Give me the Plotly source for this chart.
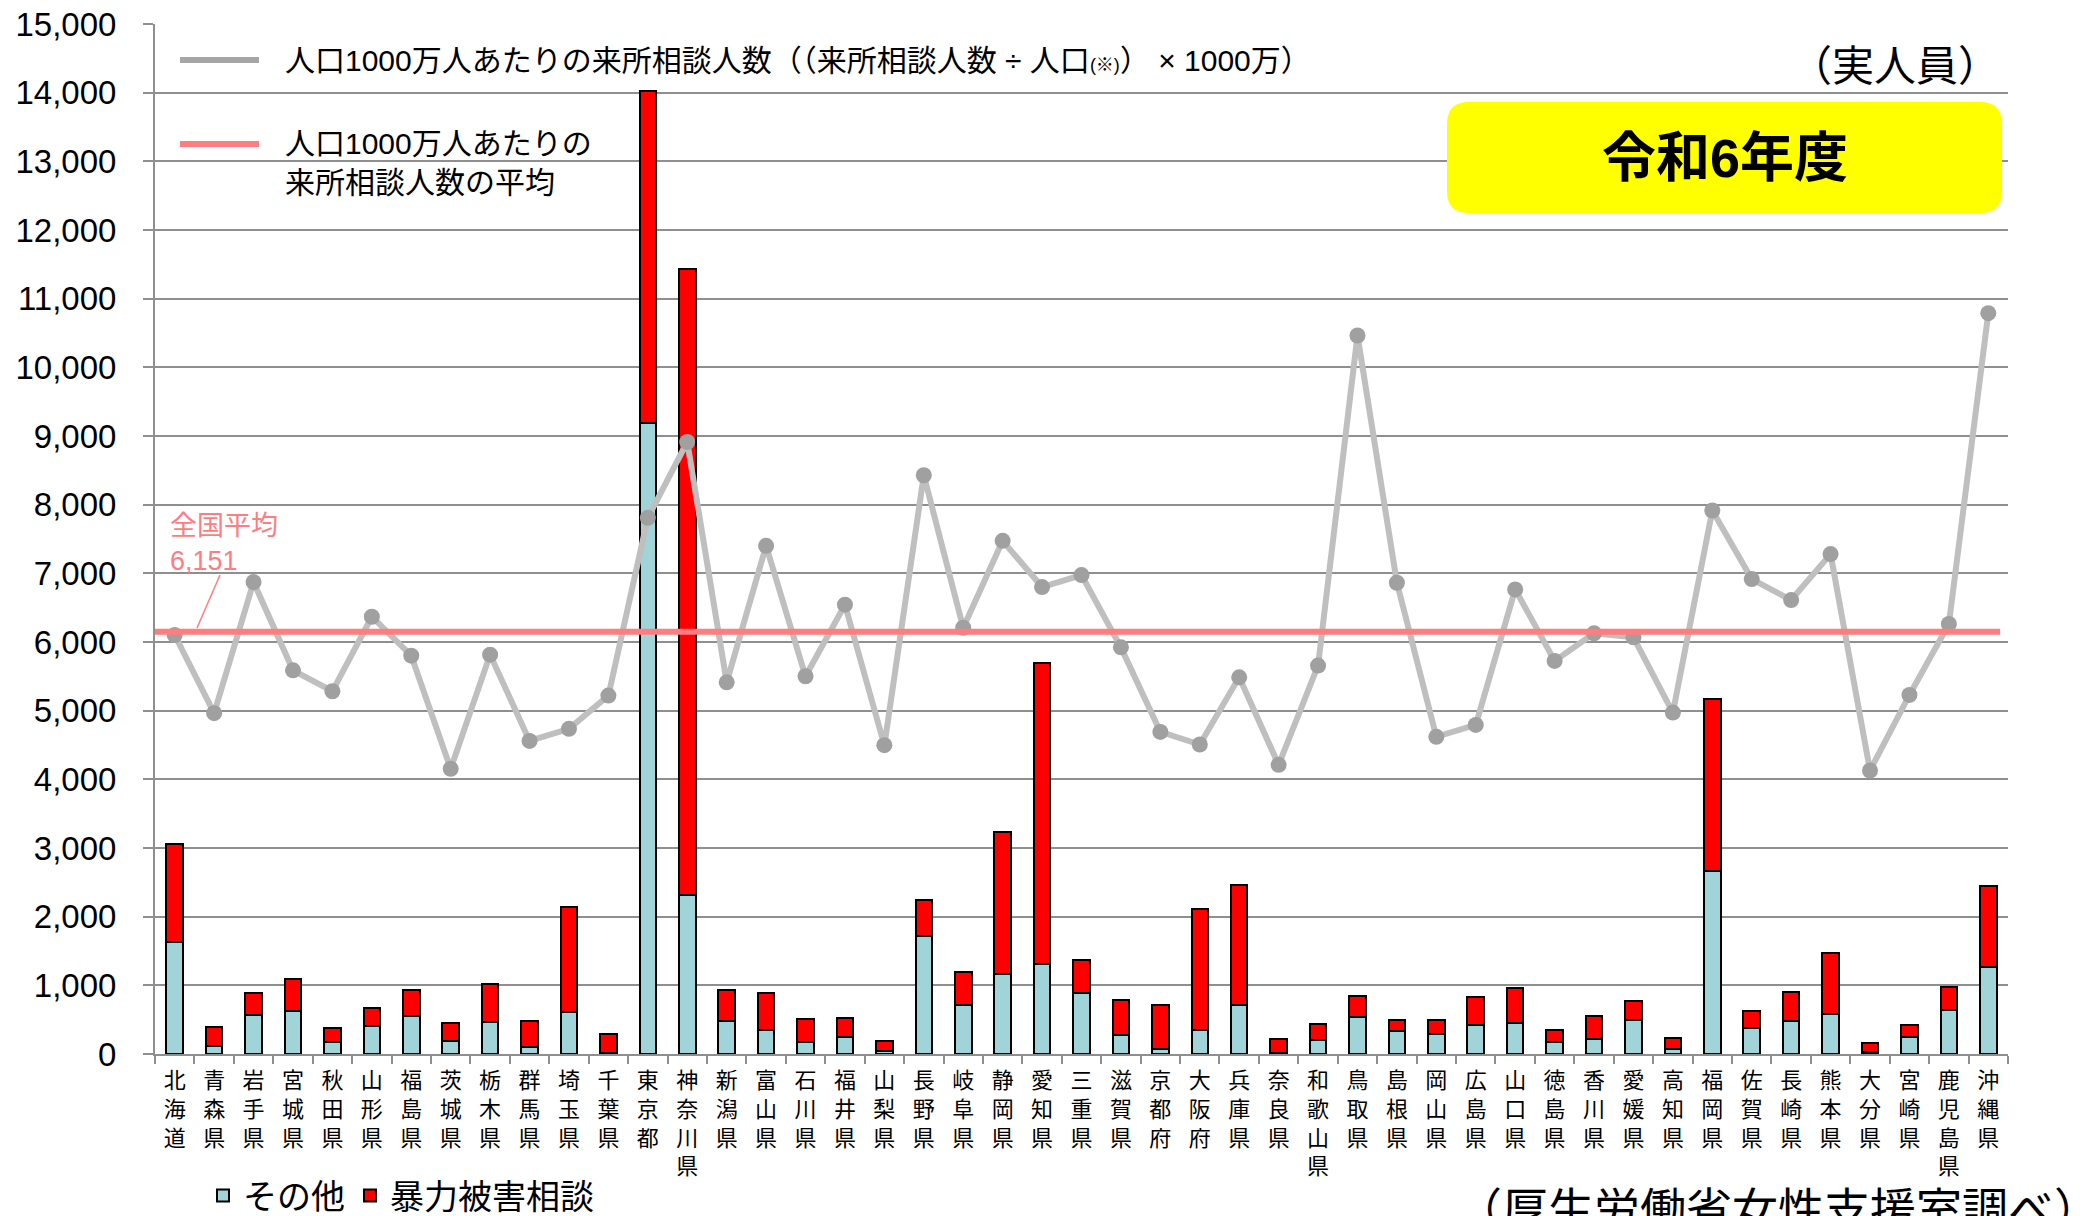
import plotly.graph_objects as go

# ---------------- data ----------------
prefs = ["北海道", "青森県", "岩手県", "宮城県", "秋田県", "山形県", "福島県", "茨城県", "栃木県", "群馬県",
         "埼玉県", "千葉県", "東京都", "神奈川県", "新潟県", "富山県", "石川県", "福井県", "山梨県", "長野県",
         "岐阜県", "静岡県", "愛知県", "三重県", "滋賀県", "京都府", "大阪府", "兵庫県", "奈良県", "和歌山県",
         "鳥取県", "島根県", "岡山県", "広島県", "山口県", "徳島県", "香川県", "愛媛県", "高知県", "福岡県",
         "佐賀県", "長崎県", "熊本県", "大分県", "宮崎県", "鹿児島県", "沖縄県"]

other = [1636, 121, 568, 631, 180, 413, 558, 189, 471, 102,
         616, 10, 9190, 2311, 476, 349, 175, 252, 49, 1713,
         709, 1165, 1306, 888, 282, 73, 349, 709, 10, 204,
         539, 340, 296, 417, 456, 170, 218, 500, 78, 2660,
         379, 476, 587, 29, 243, 641, 1267]

violence = [1417, 277, 320, 461, 199, 257, 379, 262, 543, 379,
            1525, 281, 4839, 9118, 456, 544, 340, 267, 135, 534,
            490, 2063, 4384, 476, 509, 641, 1767, 1757, 213, 238,
            306, 160, 194, 413, 500, 184, 340, 267, 150, 2506,
            242, 422, 884, 136, 174, 330, 1175]

per10m = [6102, 4963, 6873, 5588, 5283, 6368, 5801, 4153, 5816, 4560,
          4735, 5220, 7808, 8913, 5413, 7401, 5501, 6543, 4497, 8428,
          6208, 7474, 6800, 6974, 5922, 4691, 4507, 5486, 4211, 5656,
          10464, 6863, 4619, 4793, 6766, 5724, 6126, 6068, 4972, 7915,
          6916, 6611, 7280, 4129, 5229, 6262, 10789]

national_avg = 6151

y_ticks = list(range(0, 15001, 1000))

# ---------------- layout helpers ----------------
OFF = 8  # page body margin
W, H = 2085 - OFF, 1216 - OFF
L, T = 155 - OFF, 24 - OFF
R = W - (2008 - OFF)
B = H - (1054 - OFF)
PW, PH = W - L - R, H - T - B


def px(xp):
    """page x pixel -> paper coordinate"""
    return (xp - OFF - L) / PW


def py(yp):
    """page y pixel -> paper coordinate"""
    return (H - B - (yp - OFF)) / PH


idx = list(range(len(prefs)))
ticktext = ["<br>".join(list(p)) for p in prefs]

CJK = "Noto Sans CJK JP"
MIX = "Liberation Sans, Noto Sans CJK JP"
PINK = "#FF7C80"
GRID = "#8F8F8F"

fig = go.Figure()

fig.add_trace(go.Bar(
    x=idx, y=other, name="その他", width=0.42,
    marker=dict(color="#A0D4D8", line=dict(color="black", width=2)),
    legend="legend2", showlegend=True,
))
fig.add_trace(go.Bar(
    x=idx, y=violence, name="暴力被害相談", width=0.42,
    marker=dict(color="#FF0000", line=dict(color="black", width=2)),
    legend="legend2", showlegend=True,
))
fig.add_trace(go.Scatter(
    x=idx, y=per10m, mode="lines+markers",
    line=dict(color="#BFBFBF", width=6),
    marker=dict(color="#A0A0A0", size=16),
    showlegend=False,
))
fig.add_trace(go.Scatter(
    x=[-0.5, len(prefs) - 0.7], y=[national_avg, national_avg], mode="lines",
    line=dict(color=PINK, width=6),
    showlegend=False,
))

shapes = []
annotations = []

# top-left legend
shapes.append(dict(type="line", xref="paper", yref="paper", x0=px(180), x1=px(259), y0=py(60), y1=py(60),
                   line=dict(color="#A6A6A6", width=6)))
shapes.append(dict(type="line", xref="paper", yref="paper", x0=px(180), x1=px(259), y0=py(144), y1=py(144),
                   line=dict(color=PINK, width=6)))
annotations.append(dict(
    xref="paper", yref="paper", x=px(283), y=py(60), xanchor="left", yanchor="middle", showarrow=False,
    text="人口1000万人あたりの来所相談人数（（来所相談人数 ÷ 人口<span style='font-size:18px'>(※)</span>） × 1000万）",
    font=dict(family=MIX, size=30, color="black"),
))
annotations.append(dict(
    xref="paper", yref="paper", x=px(283), y=py(163), xanchor="left", yanchor="middle", showarrow=False,
    align="left",
    text="人口1000万人あたりの<br>来所相談人数の平均",
    font=dict(family=MIX, size=30, color="black"),
))

# unit
annotations.append(dict(
    xref="paper", yref="paper", x=px(2002), y=py(62), xanchor="right", yanchor="middle", showarrow=False,
    text="（実人員）", font=dict(family=CJK, size=42, color="black"),
))

# title box
x0, x1, y0, y1 = 1447, 2002, 102, 213
r = 22
path = (f"M{px(x0 + r)},{py(y0)} L{px(x1 - r)},{py(y0)} Q{px(x1)},{py(y0)} {px(x1)},{py(y0 + r)} "
        f"L{px(x1)},{py(y1 - r)} Q{px(x1)},{py(y1)} {px(x1 - r)},{py(y1)} "
        f"L{px(x0 + r)},{py(y1)} Q{px(x0)},{py(y1)} {px(x0)},{py(y1 - r)} "
        f"L{px(x0)},{py(y0 + r)} Q{px(x0)},{py(y0)} {px(x0 + r)},{py(y0)} Z")
shapes.append(dict(type="path", xref="paper", yref="paper", path=path,
                   fillcolor="#FFFF00", line=dict(width=0), layer="above"))
annotations.append(dict(
    xref="paper", yref="paper", x=px((x0 + x1) / 2), y=py((y0 + y1) / 2), xanchor="center", yanchor="middle",
    showarrow=False, text="<b>令和6年度</b>", font=dict(family=MIX, size=54, color="black"),
))

# national average label
annotations.append(dict(
    xref="paper", yref="paper", x=px(168), y=py(543), xanchor="left", yanchor="middle", showarrow=False,
    align="left", text=f"全国平均<br>{national_avg:,}", font=dict(family=MIX, size=27, color=PINK),
))
shapes.append(dict(type="line", xref="paper", yref="paper", x0=px(220), y0=py(575), x1=px(197), y1=py(628),
                   line=dict(color=PINK, width=1.5)))

# source
annotations.append(dict(
    xref="paper", yref="paper", x=px(1778), y=py(1206), xanchor="center", yanchor="middle", showarrow=False,
    text="（厚生労働省女性支援室調べ）", font=dict(family=CJK, size=46, color="black"),
))

fig.update_layout(
    width=W, height=H,
    margin=dict(l=L, r=R, t=T, b=B, autoexpand=False),
    paper_bgcolor="white", plot_bgcolor="white",
    barmode="stack",
    showlegend=True,
    legend2=dict(
        orientation="h", x=px(203), y=py(1196), xanchor="left", yanchor="middle",
        font=dict(family=CJK, size=34, color="black"), bgcolor="rgba(0,0,0,0)",
        itemclick=False, traceorder="normal",
    ),
    shapes=shapes,
    annotations=annotations,
    xaxis=dict(
        range=[-0.5, len(prefs) - 0.5],
        tickmode="array", tickvals=idx, ticktext=ticktext,
        ticks="", showgrid=False, zeroline=False,
        showline=True, linecolor=GRID, linewidth=2,
        tickfont=dict(family=CJK, size=22, color="black"),
        tickangle=0, ticklabelstandoff=6, ticklabeloverflow="allow",
        minor=dict(tickmode="array", tickvals=[i - 0.5 for i in range(len(prefs) + 1)],
                   ticks="outside", ticklen=8, tickwidth=2, tickcolor=GRID, showgrid=False),
    ),
    yaxis=dict(
        range=[0, 15000], tickmode="array", tickvals=y_ticks, tickformat=",d",
        showgrid=True, gridcolor=GRID, gridwidth=2, zeroline=False,
        showline=True, linecolor=GRID, linewidth=2,
        ticks="outside", ticklen=10, tickwidth=2, tickcolor=GRID,
        tickfont=dict(family="Liberation Sans", size=33, color="black"),
        ticklabelstandoff=20, ticklabeloverflow="allow",
    ),
)

fig.write_html("out.html")
